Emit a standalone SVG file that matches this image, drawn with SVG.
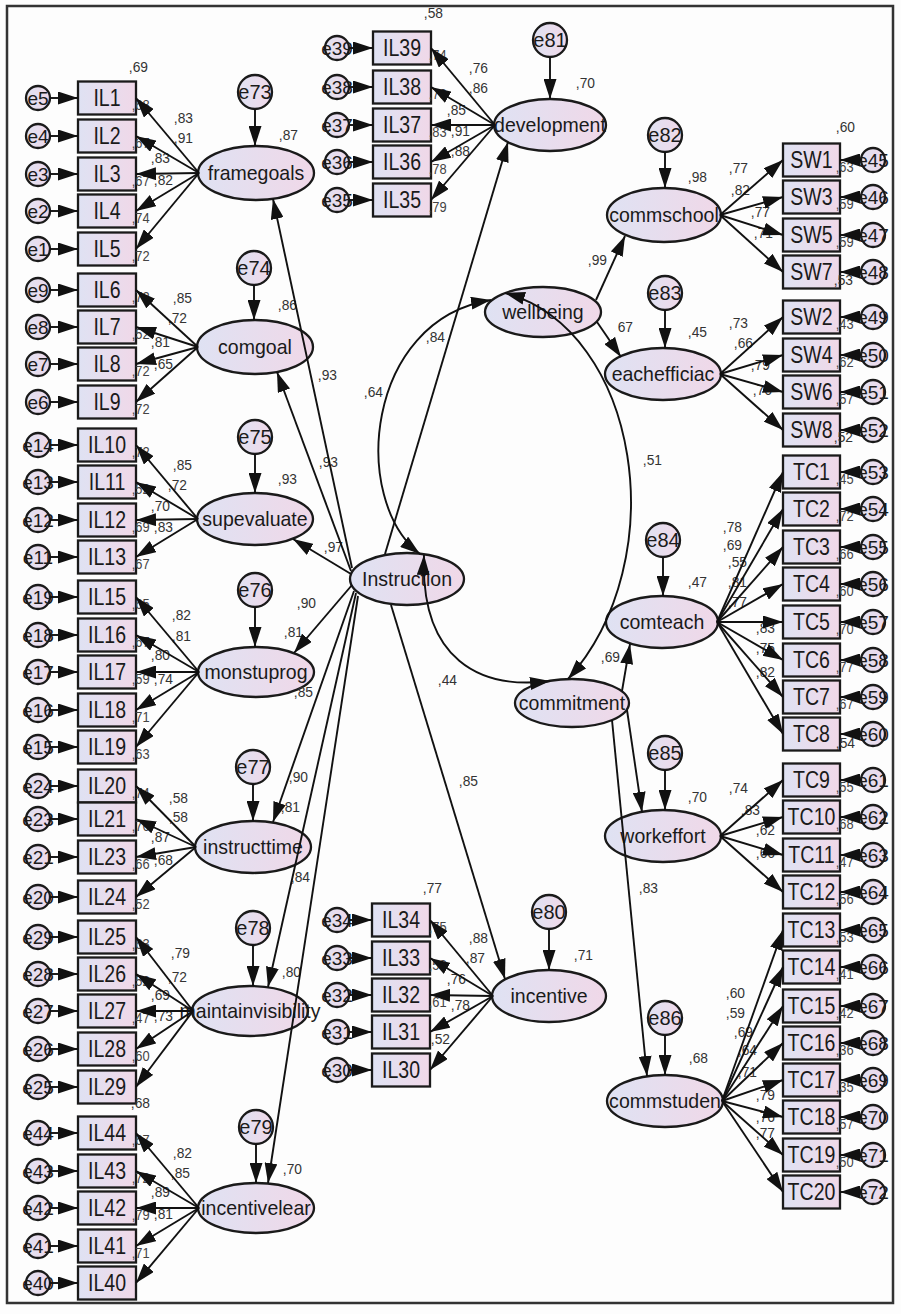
<svg xmlns="http://www.w3.org/2000/svg" width="901" height="1314" viewBox="0 0 901 1314">
<defs>
<linearGradient id="g" x1="0" y1="0" x2="1" y2="0">
<stop offset="0" stop-color="#dfe2f3"/>
<stop offset="1" stop-color="#f0d8e8"/>
</linearGradient>
<marker id="a" markerUnits="userSpaceOnUse" markerWidth="20" markerHeight="13" refX="20" refY="6.5" orient="auto-start-reverse" viewBox="0 0 20 13">
<path d="M0,0 L20,6.5 L0,13 z" fill="#111"/>
</marker>
</defs>
<style>
.b,.l,.e{fill:url(#g);stroke:#1a1a1a;stroke-width:2.3}
text{font-family:"Liberation Sans",Arial,sans-serif;fill:#1a1a1a;transform-box:fill-box;transform-origin:center}
.nl{font-size:21px;text-anchor:middle;transform:scaleX(.93)}
.bl{font-size:23px;text-anchor:middle;transform:scaleX(.85)}
.el{font-size:19px;text-anchor:middle}
.le{font-size:20px;text-anchor:middle}
.v{font-size:15px;fill:#333;transform:scaleX(.92)}
.s{font-size:14px;fill:#444;transform:scaleX(.92)}
#conn line,#conn path{stroke:#111;stroke-width:1.9;fill:none;marker-end:url(#a)}
#conn .d{marker-start:url(#a)}
</style>
<rect x="0" y="0" width="901" height="1314" fill="#fdfdfd"/>
<rect x="7" y="6" width="886" height="1297" fill="none" stroke="#333" stroke-width="2.5"/>

<!-- latent nodes -->
<g id="framegoals"><ellipse class="l" cx="256" cy="173" rx="58" ry="27"/><text class="nl" x="256" y="180">framegoals</text></g>
<g id="comgoal"><ellipse class="l" cx="255" cy="347" rx="58" ry="27"/><text class="nl" x="255" y="354">comgoal</text></g>
<g id="supevaluate"><ellipse class="l" cx="255" cy="519" rx="58" ry="26"/><text class="nl" x="255" y="526">supevaluate</text></g>
<g id="monstuprog"><ellipse class="l" cx="256" cy="672" rx="58" ry="25"/><text class="nl" x="256" y="679">monstuprog</text></g>
<g id="instructtime"><ellipse class="l" cx="253" cy="847" rx="58" ry="26"/><text class="nl" x="253" y="854">instructtime</text></g>
<g id="maintainvisibility"><ellipse class="l" cx="250" cy="1011" rx="58" ry="25"/><text class="nl" x="250" y="1018">maintainvisibility</text></g>
<g id="incentivelear"><ellipse class="l" cx="256" cy="1208" rx="58" ry="25"/><text class="nl" x="256" y="1215">incentivelear</text></g>
<g id="Instruction"><ellipse class="l" cx="407" cy="579" rx="57" ry="26"/><text class="nl" x="407" y="586">Instruction</text></g>
<g id="development"><ellipse class="l" cx="550" cy="125" rx="56" ry="26"/><text class="nl" x="550" y="132">development</text></g>
<g id="incentive"><ellipse class="l" cx="549" cy="996" rx="57" ry="26"/><text class="nl" x="549" y="1003">incentive</text></g>
<g id="wellbeing"><ellipse class="l" cx="543" cy="312" rx="58" ry="25"/><text class="nl" x="543" y="319">wellbeing</text></g>
<g id="commitment"><ellipse class="l" cx="572" cy="703" rx="57" ry="24"/><text class="nl" x="572" y="710">commitment</text></g>
<g id="commschool"><ellipse class="l" cx="664" cy="215" rx="57" ry="27"/><text class="nl" x="664" y="222">commschool</text></g>
<g id="teachefficiacy"><ellipse class="l" cx="663" cy="374" rx="58" ry="26"/><text class="nl" x="663" y="381">eachefficiac</text></g>
<g id="comteach"><ellipse class="l" cx="662" cy="622" rx="56" ry="26"/><text class="nl" x="662" y="629">comteach</text></g>
<g id="workeffort"><ellipse class="l" cx="663" cy="836" rx="58" ry="26"/><text class="nl" x="663" y="843">workeffort</text></g>
<g id="commstuden"><ellipse class="l" cx="665" cy="1101" rx="58" ry="26"/><text class="nl" x="665" y="1108">commstuden</text></g>

<!-- latent error terms -->
<g id="e73"><circle class="e" cx="255" cy="92" r="17"/><text class="le" x="255" y="99">e73</text></g>
<g id="e74"><circle class="e" cx="254" cy="268" r="17"/><text class="le" x="254" y="275">e74</text></g>
<g id="e75"><circle class="e" cx="255" cy="437" r="17"/><text class="le" x="255" y="444">e75</text></g>
<g id="e76"><circle class="e" cx="255" cy="590" r="17"/><text class="le" x="255" y="597">e76</text></g>
<g id="e77"><circle class="e" cx="253" cy="767" r="17"/><text class="le" x="253" y="774">e77</text></g>
<g id="e78"><circle class="e" cx="253" cy="928" r="17"/><text class="le" x="253" y="935">e78</text></g>
<g id="e79"><circle class="e" cx="256" cy="1127" r="17"/><text class="le" x="256" y="1134">e79</text></g>
<g id="e81"><circle class="e" cx="550" cy="40" r="17"/><text class="le" x="550" y="47">e81</text></g>
<g id="e80"><circle class="e" cx="549" cy="912" r="17"/><text class="le" x="549" y="919">e80</text></g>
<g id="e82"><circle class="e" cx="665" cy="135" r="17"/><text class="le" x="665" y="142">e82</text></g>
<g id="e83"><circle class="e" cx="665" cy="293" r="17"/><text class="le" x="665" y="300">e83</text></g>
<g id="e84"><circle class="e" cx="663" cy="540" r="17"/><text class="le" x="663" y="547">e84</text></g>
<g id="e85"><circle class="e" cx="665" cy="753" r="17"/><text class="le" x="665" y="760">e85</text></g>
<g id="e86"><circle class="e" cx="665" cy="1018" r="17"/><text class="le" x="665" y="1025">e86</text></g>

<!-- left indicators -->
<g id="IL1"><rect class="b" x="78" y="81.5" width="58" height="33"/><text class="bl" x="107" y="106">IL1</text></g>
<g id="IL2"><rect class="b" x="78" y="119.5" width="58" height="33"/><text class="bl" x="107" y="144">IL2</text></g>
<g id="IL3"><rect class="b" x="78" y="157.5" width="58" height="33"/><text class="bl" x="107" y="182">IL3</text></g>
<g id="IL4"><rect class="b" x="78" y="194.5" width="58" height="33"/><text class="bl" x="107" y="219">IL4</text></g>
<g id="IL5"><rect class="b" x="78" y="232.5" width="58" height="33"/><text class="bl" x="107" y="257">IL5</text></g>
<g id="IL6"><rect class="b" x="78" y="273.5" width="58" height="33"/><text class="bl" x="107" y="298">IL6</text></g>
<g id="IL7"><rect class="b" x="78" y="310.5" width="58" height="33"/><text class="bl" x="107" y="335">IL7</text></g>
<g id="IL8"><rect class="b" x="78" y="347.5" width="58" height="33"/><text class="bl" x="107" y="372">IL8</text></g>
<g id="IL9"><rect class="b" x="78" y="385.5" width="58" height="33"/><text class="bl" x="107" y="410">IL9</text></g>
<g id="IL10"><rect class="b" x="78" y="428.5" width="58" height="33"/><text class="bl" x="107" y="453">IL10</text></g>
<g id="IL11"><rect class="b" x="78" y="465.5" width="58" height="33"/><text class="bl" x="107" y="490">IL11</text></g>
<g id="IL12"><rect class="b" x="78" y="503.5" width="58" height="33"/><text class="bl" x="107" y="528">IL12</text></g>
<g id="IL13"><rect class="b" x="78" y="540.5" width="58" height="33"/><text class="bl" x="107" y="565">IL13</text></g>
<g id="IL15"><rect class="b" x="78" y="580.5" width="58" height="33"/><text class="bl" x="107" y="605">IL15</text></g>
<g id="IL16"><rect class="b" x="78" y="618.5" width="58" height="33"/><text class="bl" x="107" y="643">IL16</text></g>
<g id="IL17"><rect class="b" x="78" y="655.5" width="58" height="33"/><text class="bl" x="107" y="680">IL17</text></g>
<g id="IL18"><rect class="b" x="78" y="693.5" width="58" height="33"/><text class="bl" x="107" y="718">IL18</text></g>
<g id="IL19"><rect class="b" x="78" y="730.5" width="58" height="33"/><text class="bl" x="107" y="755">IL19</text></g>
<g id="IL20"><rect class="b" x="78" y="769.5" width="58" height="33"/><text class="bl" x="107" y="794">IL20</text></g>
<g id="IL21"><rect class="b" x="78" y="802.5" width="58" height="33"/><text class="bl" x="107" y="827">IL21</text></g>
<g id="IL23"><rect class="b" x="78" y="840.5" width="58" height="33"/><text class="bl" x="107" y="865">IL23</text></g>
<g id="IL24"><rect class="b" x="78" y="880.5" width="58" height="33"/><text class="bl" x="107" y="905">IL24</text></g>
<g id="IL25"><rect class="b" x="78" y="920.5" width="58" height="33"/><text class="bl" x="107" y="945">IL25</text></g>
<g id="IL26"><rect class="b" x="78" y="957.5" width="58" height="33"/><text class="bl" x="107" y="982">IL26</text></g>
<g id="IL27"><rect class="b" x="78" y="994.5" width="58" height="33"/><text class="bl" x="107" y="1019">IL27</text></g>
<g id="IL28"><rect class="b" x="78" y="1032.5" width="58" height="33"/><text class="bl" x="107" y="1057">IL28</text></g>
<g id="IL29"><rect class="b" x="78" y="1070.5" width="58" height="33"/><text class="bl" x="107" y="1095">IL29</text></g>
<g id="IL44"><rect class="b" x="78" y="1116.5" width="58" height="33"/><text class="bl" x="107" y="1141">IL44</text></g>
<g id="IL43"><rect class="b" x="78" y="1154.5" width="58" height="33"/><text class="bl" x="107" y="1179">IL43</text></g>
<g id="IL42"><rect class="b" x="78" y="1191.5" width="58" height="33"/><text class="bl" x="107" y="1216">IL42</text></g>
<g id="IL41"><rect class="b" x="78" y="1229.5" width="58" height="33"/><text class="bl" x="107" y="1254">IL41</text></g>
<g id="IL40"><rect class="b" x="78" y="1266.5" width="58" height="33"/><text class="bl" x="107" y="1291">IL40</text></g>

<!-- middle indicators -->
<g id="IL39"><rect class="b" x="373" y="31.5" width="58" height="33"/><text class="bl" x="402" y="56">IL39</text></g>
<g id="IL38"><rect class="b" x="373" y="70.5" width="58" height="33"/><text class="bl" x="402" y="95">IL38</text></g>
<g id="IL37"><rect class="b" x="373" y="108.5" width="58" height="33"/><text class="bl" x="402" y="133">IL37</text></g>
<g id="IL36"><rect class="b" x="373" y="145.5" width="58" height="33"/><text class="bl" x="402" y="170">IL36</text></g>
<g id="IL35"><rect class="b" x="373" y="183.5" width="58" height="33"/><text class="bl" x="402" y="208">IL35</text></g>
<g id="IL34"><rect class="b" x="372" y="903.5" width="58" height="33"/><text class="bl" x="401" y="928">IL34</text></g>
<g id="IL33"><rect class="b" x="372" y="941.5" width="58" height="33"/><text class="bl" x="401" y="966">IL33</text></g>
<g id="IL32"><rect class="b" x="372" y="978.5" width="58" height="33"/><text class="bl" x="401" y="1003">IL32</text></g>
<g id="IL31"><rect class="b" x="372" y="1015.5" width="58" height="33"/><text class="bl" x="401" y="1040">IL31</text></g>
<g id="IL30"><rect class="b" x="372" y="1053.5" width="58" height="33"/><text class="bl" x="401" y="1078">IL30</text></g>

<!-- right indicators -->
<g id="SW1"><rect class="b" x="783" y="143.5" width="57" height="33"/><text class="bl" x="811.5" y="168">SW1</text></g>
<g id="SW3"><rect class="b" x="783" y="180.5" width="57" height="33"/><text class="bl" x="811.5" y="205">SW3</text></g>
<g id="SW5"><rect class="b" x="783" y="218.5" width="57" height="33"/><text class="bl" x="811.5" y="243">SW5</text></g>
<g id="SW7"><rect class="b" x="783" y="255.5" width="57" height="33"/><text class="bl" x="811.5" y="280">SW7</text></g>
<g id="SW2"><rect class="b" x="783" y="300.5" width="57" height="33"/><text class="bl" x="811.5" y="325">SW2</text></g>
<g id="SW4"><rect class="b" x="783" y="338.5" width="57" height="33"/><text class="bl" x="811.5" y="363">SW4</text></g>
<g id="SW6"><rect class="b" x="783" y="375.5" width="57" height="33"/><text class="bl" x="811.5" y="400">SW6</text></g>
<g id="SW8"><rect class="b" x="783" y="413.5" width="57" height="33"/><text class="bl" x="811.5" y="438">SW8</text></g>
<g id="TC1"><rect class="b" x="783" y="455.5" width="57" height="33"/><text class="bl" x="811.5" y="480">TC1</text></g>
<g id="TC2"><rect class="b" x="783" y="492.5" width="57" height="33"/><text class="bl" x="811.5" y="517">TC2</text></g>
<g id="TC3"><rect class="b" x="783" y="530.5" width="57" height="33"/><text class="bl" x="811.5" y="555">TC3</text></g>
<g id="TC4"><rect class="b" x="783" y="567.5" width="57" height="33"/><text class="bl" x="811.5" y="592">TC4</text></g>
<g id="TC5"><rect class="b" x="783" y="605.5" width="57" height="33"/><text class="bl" x="811.5" y="630">TC5</text></g>
<g id="TC6"><rect class="b" x="783" y="643.5" width="57" height="33"/><text class="bl" x="811.5" y="668">TC6</text></g>
<g id="TC7"><rect class="b" x="783" y="680.5" width="57" height="33"/><text class="bl" x="811.5" y="705">TC7</text></g>
<g id="TC8"><rect class="b" x="783" y="717.5" width="57" height="33"/><text class="bl" x="811.5" y="742">TC8</text></g>
<g id="TC9"><rect class="b" x="783" y="763.5" width="57" height="33"/><text class="bl" x="811.5" y="788">TC9</text></g>
<g id="TC10"><rect class="b" x="783" y="800.5" width="57" height="33"/><text class="bl" x="811.5" y="825">TC10</text></g>
<g id="TC11"><rect class="b" x="783" y="838.5" width="57" height="33"/><text class="bl" x="811.5" y="863">TC11</text></g>
<g id="TC12"><rect class="b" x="783" y="875.5" width="57" height="33"/><text class="bl" x="811.5" y="900">TC12</text></g>
<g id="TC13"><rect class="b" x="783" y="913.5" width="57" height="33"/><text class="bl" x="811.5" y="938">TC13</text></g>
<g id="TC14"><rect class="b" x="783" y="950.5" width="57" height="33"/><text class="bl" x="811.5" y="975">TC14</text></g>
<g id="TC15"><rect class="b" x="783" y="989.5" width="57" height="33"/><text class="bl" x="811.5" y="1014">TC15</text></g>
<g id="TC16"><rect class="b" x="783" y="1026.5" width="57" height="33"/><text class="bl" x="811.5" y="1051">TC16</text></g>
<g id="TC17"><rect class="b" x="783" y="1063.5" width="57" height="33"/><text class="bl" x="811.5" y="1088">TC17</text></g>
<g id="TC18"><rect class="b" x="783" y="1100.5" width="57" height="33"/><text class="bl" x="811.5" y="1125">TC18</text></g>
<g id="TC19"><rect class="b" x="783" y="1138.5" width="57" height="33"/><text class="bl" x="811.5" y="1163">TC19</text></g>
<g id="TC20"><rect class="b" x="783" y="1175.5" width="57" height="33"/><text class="bl" x="811.5" y="1200">TC20</text></g>

<!-- left error terms -->
<g id="e5"><circle class="e" cx="38" cy="98" r="12"/><text class="el" x="38" y="105">e5</text></g>
<g id="e4"><circle class="e" cx="38" cy="136" r="12"/><text class="el" x="38" y="143">e4</text></g>
<g id="e3"><circle class="e" cx="38" cy="174" r="12"/><text class="el" x="38" y="181">e3</text></g>
<g id="e2"><circle class="e" cx="38" cy="211" r="12"/><text class="el" x="38" y="218">e2</text></g>
<g id="e1"><circle class="e" cx="38" cy="249" r="12"/><text class="el" x="38" y="256">e1</text></g>
<g id="e9"><circle class="e" cx="38" cy="290" r="12"/><text class="el" x="38" y="297">e9</text></g>
<g id="e8"><circle class="e" cx="38" cy="327" r="12"/><text class="el" x="38" y="334">e8</text></g>
<g id="e7"><circle class="e" cx="38" cy="364" r="12"/><text class="el" x="38" y="371">e7</text></g>
<g id="e6"><circle class="e" cx="38" cy="402" r="12"/><text class="el" x="38" y="409">e6</text></g>
<g id="e14"><circle class="e" cx="38" cy="445" r="12"/><text class="el" x="38" y="452">e14</text></g>
<g id="e13"><circle class="e" cx="38" cy="482" r="12"/><text class="el" x="38" y="489">e13</text></g>
<g id="e12"><circle class="e" cx="38" cy="520" r="12"/><text class="el" x="38" y="527">e12</text></g>
<g id="e11"><circle class="e" cx="38" cy="557" r="12"/><text class="el" x="38" y="564">e11</text></g>
<g id="e19"><circle class="e" cx="38" cy="597" r="12"/><text class="el" x="38" y="604">e19</text></g>
<g id="e18"><circle class="e" cx="38" cy="635" r="12"/><text class="el" x="38" y="642">e18</text></g>
<g id="e17"><circle class="e" cx="38" cy="672" r="12"/><text class="el" x="38" y="679">e17</text></g>
<g id="e16"><circle class="e" cx="38" cy="710" r="12"/><text class="el" x="38" y="717">e16</text></g>
<g id="e15"><circle class="e" cx="38" cy="747" r="12"/><text class="el" x="38" y="754">e15</text></g>
<g id="e24"><circle class="e" cx="38" cy="786" r="12"/><text class="el" x="38" y="793">e24</text></g>
<g id="e23"><circle class="e" cx="38" cy="819" r="12"/><text class="el" x="38" y="826">e23</text></g>
<g id="e21"><circle class="e" cx="38" cy="857" r="12"/><text class="el" x="38" y="864">e21</text></g>
<g id="e20"><circle class="e" cx="38" cy="897" r="12"/><text class="el" x="38" y="904">e20</text></g>
<g id="e29"><circle class="e" cx="38" cy="937" r="12"/><text class="el" x="38" y="944">e29</text></g>
<g id="e28"><circle class="e" cx="38" cy="974" r="12"/><text class="el" x="38" y="981">e28</text></g>
<g id="e27"><circle class="e" cx="38" cy="1011" r="12"/><text class="el" x="38" y="1018">e27</text></g>
<g id="e26"><circle class="e" cx="38" cy="1049" r="12"/><text class="el" x="38" y="1056">e26</text></g>
<g id="e25"><circle class="e" cx="38" cy="1087" r="12"/><text class="el" x="38" y="1094">e25</text></g>
<g id="e44"><circle class="e" cx="38" cy="1133" r="12"/><text class="el" x="38" y="1140">e44</text></g>
<g id="e43"><circle class="e" cx="38" cy="1171" r="12"/><text class="el" x="38" y="1178">e43</text></g>
<g id="e42"><circle class="e" cx="38" cy="1208" r="12"/><text class="el" x="38" y="1215">e42</text></g>
<g id="e41"><circle class="e" cx="38" cy="1246" r="12"/><text class="el" x="38" y="1253">e41</text></g>
<g id="e40"><circle class="e" cx="38" cy="1283" r="12"/><text class="el" x="38" y="1290">e40</text></g>

<!-- middle error terms -->
<g id="e39"><circle class="e" cx="337" cy="48" r="12"/><text class="el" x="337" y="55">e39</text></g>
<g id="e38"><circle class="e" cx="337" cy="87" r="12"/><text class="el" x="337" y="94">e38</text></g>
<g id="e37"><circle class="e" cx="337" cy="125" r="12"/><text class="el" x="337" y="132">e37</text></g>
<g id="e36"><circle class="e" cx="337" cy="162" r="12"/><text class="el" x="337" y="169">e36</text></g>
<g id="e35"><circle class="e" cx="337" cy="200" r="12"/><text class="el" x="337" y="207">e35</text></g>
<g id="e34"><circle class="e" cx="337" cy="920" r="12"/><text class="el" x="337" y="927">e34</text></g>
<g id="e33"><circle class="e" cx="337" cy="958" r="12"/><text class="el" x="337" y="965">e33</text></g>
<g id="e32"><circle class="e" cx="337" cy="995" r="12"/><text class="el" x="337" y="1002">e32</text></g>
<g id="e31"><circle class="e" cx="337" cy="1032" r="12"/><text class="el" x="337" y="1039">e31</text></g>
<g id="e30"><circle class="e" cx="337" cy="1070" r="12"/><text class="el" x="337" y="1077">e30</text></g>

<!-- right error terms -->
<g id="e45"><circle class="e" cx="873" cy="160" r="12"/><text class="el" x="873" y="167">e45</text></g>
<g id="e46"><circle class="e" cx="873" cy="197" r="12"/><text class="el" x="873" y="204">e46</text></g>
<g id="e47"><circle class="e" cx="873" cy="235" r="12"/><text class="el" x="873" y="242">e47</text></g>
<g id="e48"><circle class="e" cx="873" cy="272" r="12"/><text class="el" x="873" y="279">e48</text></g>
<g id="e49"><circle class="e" cx="873" cy="317" r="12"/><text class="el" x="873" y="324">e49</text></g>
<g id="e50"><circle class="e" cx="873" cy="355" r="12"/><text class="el" x="873" y="362">e50</text></g>
<g id="e51"><circle class="e" cx="873" cy="392" r="12"/><text class="el" x="873" y="399">e51</text></g>
<g id="e52"><circle class="e" cx="873" cy="430" r="12"/><text class="el" x="873" y="437">e52</text></g>
<g id="e53"><circle class="e" cx="873" cy="472" r="12"/><text class="el" x="873" y="479">e53</text></g>
<g id="e54"><circle class="e" cx="873" cy="509" r="12"/><text class="el" x="873" y="516">e54</text></g>
<g id="e55"><circle class="e" cx="873" cy="547" r="12"/><text class="el" x="873" y="554">e55</text></g>
<g id="e56"><circle class="e" cx="873" cy="584" r="12"/><text class="el" x="873" y="591">e56</text></g>
<g id="e57"><circle class="e" cx="873" cy="622" r="12"/><text class="el" x="873" y="629">e57</text></g>
<g id="e58"><circle class="e" cx="873" cy="660" r="12"/><text class="el" x="873" y="667">e58</text></g>
<g id="e59"><circle class="e" cx="873" cy="697" r="12"/><text class="el" x="873" y="704">e59</text></g>
<g id="e60"><circle class="e" cx="873" cy="734" r="12"/><text class="el" x="873" y="741">e60</text></g>
<g id="e61"><circle class="e" cx="873" cy="780" r="12"/><text class="el" x="873" y="787">e61</text></g>
<g id="e62"><circle class="e" cx="873" cy="817" r="12"/><text class="el" x="873" y="824">e62</text></g>
<g id="e63"><circle class="e" cx="873" cy="855" r="12"/><text class="el" x="873" y="862">e63</text></g>
<g id="e64"><circle class="e" cx="873" cy="892" r="12"/><text class="el" x="873" y="899">e64</text></g>
<g id="e65"><circle class="e" cx="873" cy="930" r="12"/><text class="el" x="873" y="937">e65</text></g>
<g id="e66"><circle class="e" cx="873" cy="967" r="12"/><text class="el" x="873" y="974">e66</text></g>
<g id="e67"><circle class="e" cx="873" cy="1006" r="12"/><text class="el" x="873" y="1013">e67</text></g>
<g id="e68"><circle class="e" cx="873" cy="1043" r="12"/><text class="el" x="873" y="1050">e68</text></g>
<g id="e69"><circle class="e" cx="873" cy="1080" r="12"/><text class="el" x="873" y="1087">e69</text></g>
<g id="e70"><circle class="e" cx="873" cy="1117" r="12"/><text class="el" x="873" y="1124">e70</text></g>
<g id="e71"><circle class="e" cx="873" cy="1155" r="12"/><text class="el" x="873" y="1162">e71</text></g>
<g id="e72"><circle class="e" cx="873" cy="1192" r="12"/><text class="el" x="873" y="1199">e72</text></g>

<!-- value labels -->
<g id="values">
<text class="v" x="128" y="72">,69</text><text class="v" x="278" y="140">,87</text>
<text class="v" x="173" y="123">,83</text><text class="v" x="173" y="143">,91</text><text class="v" x="150" y="163">,83</text><text class="v" x="153" y="185">,82</text>
<text class="s" x="131" y="110">,68</text><text class="s" x="131" y="148">,67</text><text class="s" x="131" y="186">,67</text><text class="s" x="131" y="223">,74</text><text class="s" x="131" y="261">,72</text>
<text class="v" x="172" y="303">,85</text><text class="v" x="167" y="323">,72</text><text class="v" x="150" y="347">,81</text><text class="v" x="153" y="369">,65</text><text class="v" x="277" y="310">,86</text>
<text class="s" x="131" y="302">,72</text><text class="s" x="131" y="339">,52</text><text class="s" x="131" y="376">,72</text><text class="s" x="131" y="414">,72</text>
<text class="v" x="172" y="470">,85</text><text class="v" x="167" y="490">,72</text><text class="v" x="150" y="511">,70</text><text class="v" x="153" y="532">,83</text><text class="v" x="277" y="484">,93</text>
<text class="s" x="131" y="457">,72</text><text class="s" x="131" y="494">,52</text><text class="s" x="131" y="532">,69</text><text class="s" x="131" y="569">,67</text>
<text class="v" x="171" y="620">,82</text><text class="v" x="171" y="641">,81</text><text class="v" x="150" y="660">,80</text><text class="v" x="153" y="684">,74</text>
<text class="s" x="131" y="609">,65</text><text class="s" x="131" y="647">,67</text><text class="s" x="131" y="684">,59</text><text class="s" x="131" y="722">,71</text><text class="s" x="131" y="759">,63</text>
<text class="v" x="296" y="608">,90</text><text class="v" x="283" y="637">,81</text><text class="v" x="293" y="697">,85</text>
<text class="v" x="168" y="803">,58</text><text class="v" x="168" y="822">,58</text><text class="v" x="150" y="842">,87</text><text class="v" x="153" y="865">,68</text>
<text class="s" x="131" y="798">,74</text><text class="s" x="131" y="831">,76</text><text class="s" x="131" y="869">,66</text><text class="s" x="131" y="909">,52</text>
<text class="v" x="288" y="782">,90</text><text class="v" x="280" y="812">,81</text><text class="v" x="290" y="882">,84</text>
<text class="v" x="170" y="958">,79</text><text class="v" x="167" y="982">,72</text><text class="v" x="150" y="1000">,69</text><text class="v" x="153" y="1021">,73</text><text class="v" x="281" y="977">,80</text>
<text class="s" x="131" y="949">,63</text><text class="s" x="131" y="986">,52</text><text class="s" x="131" y="1023">,47</text><text class="s" x="131" y="1061">,60</text><text class="v" x="130" y="1108">,68</text>
<text class="v" x="172" y="1158">,82</text><text class="v" x="170" y="1178">,85</text><text class="v" x="150" y="1197">,89</text><text class="v" x="153" y="1219">,81</text><text class="v" x="282" y="1174">,70</text>
<text class="s" x="131" y="1145">,67</text><text class="s" x="131" y="1183">,72</text><text class="s" x="131" y="1220">,79</text><text class="s" x="131" y="1258">,71</text>
<text class="v" x="317" y="380">,93</text><text class="v" x="318" y="467">,93</text><text class="v" x="323" y="552">,97</text><text class="v" x="363" y="397">,64</text><text class="v" x="425" y="342">,84</text><text class="v" x="437" y="685">,44</text><text class="v" x="458" y="786">,85</text><text class="v" x="642" y="465">,51</text>
<text class="v" x="423" y="18">,58</text><text class="v" x="575" y="88">,70</text>
<text class="v" x="468" y="73">,76</text><text class="v" x="468" y="93">,86</text><text class="v" x="446" y="115">,85</text><text class="v" x="450" y="136">,91</text><text class="v" x="450" y="156">,88</text>
<text class="s" x="428" y="60">,74</text><text class="s" x="428" y="99">,73</text><text class="s" x="428" y="137">,83</text><text class="s" x="428" y="174">,78</text><text class="s" x="428" y="212">,79</text>
<text class="v" x="422" y="893">,77</text><text class="v" x="573" y="960">,71</text>
<text class="v" x="468" y="943">,88</text><text class="v" x="465" y="963">,87</text><text class="v" x="446" y="984">,76</text><text class="v" x="450" y="1010">,78</text>
<text class="s" x="428" y="932">,75</text><text class="s" x="428" y="970">,58</text><text class="s" x="428" y="1007">,61</text><text class="v" x="430" y="1044">,52</text>
<text class="v" x="835" y="132">,60</text><text class="v" x="687" y="182">,98</text><text class="v" x="728" y="173">,77</text><text class="v" x="730" y="195">,82</text><text class="v" x="750" y="217">,77</text><text class="v" x="753" y="238">,71</text><text class="v" x="587" y="265">,99</text>
<text class="s" x="835" y="172">,63</text><text class="s" x="835" y="209">,59</text><text class="s" x="835" y="247">,59</text><text class="v" x="833" y="285">,53</text>
<text class="v" x="617" y="332">67</text><text class="v" x="687" y="337">,45</text><text class="v" x="728" y="328">,73</text><text class="v" x="733" y="348">,66</text><text class="v" x="750" y="370">,79</text><text class="v" x="752" y="395">,76</text>
<text class="s" x="835" y="329">,43</text><text class="s" x="835" y="367">,62</text><text class="s" x="835" y="404">,57</text><text class="v" x="833" y="442">,52</text>
<text class="v" x="687" y="587">,47</text><text class="v" x="600" y="662">,69</text>
<text class="v" x="722" y="532">,78</text><text class="v" x="722" y="550">,69</text><text class="v" x="727" y="567">,55</text><text class="v" x="727" y="587">,81</text><text class="v" x="727" y="607">,77</text><text class="v" x="755" y="633">,83</text><text class="v" x="755" y="653">,75</text><text class="v" x="755" y="677">,82</text>
<text class="s" x="835" y="484">,45</text><text class="s" x="835" y="521">,72</text><text class="s" x="835" y="559">,66</text><text class="s" x="835" y="596">,60</text><text class="s" x="835" y="634">,70</text><text class="s" x="835" y="672">,77</text><text class="s" x="835" y="709">,67</text><text class="v" x="835" y="748">,54</text>
<text class="v" x="687" y="802">,70</text><text class="v" x="728" y="793">,74</text><text class="v" x="740" y="815">,83</text><text class="v" x="755" y="835">,62</text><text class="v" x="755" y="858">,66</text><text class="v" x="638" y="893">,83</text>
<text class="s" x="835" y="792">,55</text><text class="s" x="835" y="829">,68</text><text class="s" x="835" y="867">,47</text><text class="s" x="835" y="904">,56</text>
<text class="v" x="688" y="1063">,68</text>
<text class="v" x="725" y="998">,60</text><text class="v" x="725" y="1018">,59</text><text class="v" x="733" y="1037">,69</text><text class="v" x="737" y="1055">,64</text><text class="v" x="737" y="1077">,71</text><text class="v" x="755" y="1100">,79</text><text class="v" x="755" y="1122">,76</text><text class="v" x="755" y="1138">,77</text>
<text class="s" x="835" y="942">,53</text><text class="s" x="835" y="979">,41</text><text class="s" x="835" y="1018">,42</text><text class="s" x="835" y="1055">,36</text><text class="s" x="835" y="1092">,35</text><text class="s" x="835" y="1129">,57</text><text class="s" x="835" y="1167">,50</text>
</g>

<!-- connectors -->
<g id="conn">
<line x1="50" y1="98" x2="78" y2="98"/><line x1="50" y1="136" x2="78" y2="136"/><line x1="50" y1="174" x2="78" y2="174"/><line x1="50" y1="211" x2="78" y2="211"/><line x1="50" y1="249" x2="78" y2="249"/>
<line x1="50" y1="290" x2="78" y2="290"/><line x1="50" y1="327" x2="78" y2="327"/><line x1="50" y1="364" x2="78" y2="364"/><line x1="50" y1="402" x2="78" y2="402"/>
<line x1="50" y1="445" x2="78" y2="445"/><line x1="50" y1="482" x2="78" y2="482"/><line x1="50" y1="520" x2="78" y2="520"/><line x1="50" y1="557" x2="78" y2="557"/>
<line x1="50" y1="597" x2="78" y2="597"/><line x1="50" y1="635" x2="78" y2="635"/><line x1="50" y1="672" x2="78" y2="672"/><line x1="50" y1="710" x2="78" y2="710"/><line x1="50" y1="747" x2="78" y2="747"/>
<line x1="50" y1="786" x2="78" y2="786"/><line x1="50" y1="819" x2="78" y2="819"/><line x1="50" y1="857" x2="78" y2="857"/><line x1="50" y1="897" x2="78" y2="897"/>
<line x1="50" y1="937" x2="78" y2="937"/><line x1="50" y1="974" x2="78" y2="974"/><line x1="50" y1="1011" x2="78" y2="1011"/><line x1="50" y1="1049" x2="78" y2="1049"/><line x1="50" y1="1087" x2="78" y2="1087"/>
<line x1="50" y1="1133" x2="78" y2="1133"/><line x1="50" y1="1171" x2="78" y2="1171"/><line x1="50" y1="1208" x2="78" y2="1208"/><line x1="50" y1="1246" x2="78" y2="1246"/><line x1="50" y1="1283" x2="78" y2="1283"/>
<line x1="349" y1="48" x2="373" y2="48"/><line x1="349" y1="87" x2="373" y2="87"/><line x1="349" y1="125" x2="373" y2="125"/><line x1="349" y1="162" x2="373" y2="162"/><line x1="349" y1="200" x2="373" y2="200"/>
<line x1="349" y1="920" x2="372" y2="920"/><line x1="349" y1="958" x2="372" y2="958"/><line x1="349" y1="995" x2="372" y2="995"/><line x1="349" y1="1032" x2="372" y2="1032"/><line x1="349" y1="1070" x2="372" y2="1070"/>
<line x1="861" y1="160" x2="840" y2="160"/><line x1="861" y1="197" x2="840" y2="197"/><line x1="861" y1="235" x2="840" y2="235"/><line x1="861" y1="272" x2="840" y2="272"/>
<line x1="861" y1="317" x2="840" y2="317"/><line x1="861" y1="355" x2="840" y2="355"/><line x1="861" y1="392" x2="840" y2="392"/><line x1="861" y1="430" x2="840" y2="430"/>
<line x1="861" y1="472" x2="840" y2="472"/><line x1="861" y1="509" x2="840" y2="509"/><line x1="861" y1="547" x2="840" y2="547"/><line x1="861" y1="584" x2="840" y2="584"/><line x1="861" y1="622" x2="840" y2="622"/><line x1="861" y1="660" x2="840" y2="660"/><line x1="861" y1="697" x2="840" y2="697"/><line x1="861" y1="734" x2="840" y2="734"/>
<line x1="861" y1="780" x2="840" y2="780"/><line x1="861" y1="817" x2="840" y2="817"/><line x1="861" y1="855" x2="840" y2="855"/><line x1="861" y1="892" x2="840" y2="892"/>
<line x1="861" y1="930" x2="840" y2="930"/><line x1="861" y1="967" x2="840" y2="967"/><line x1="861" y1="1006" x2="840" y2="1006"/><line x1="861" y1="1043" x2="840" y2="1043"/><line x1="861" y1="1080" x2="840" y2="1080"/><line x1="861" y1="1117" x2="840" y2="1117"/><line x1="861" y1="1155" x2="840" y2="1155"/><line x1="861" y1="1192" x2="840" y2="1192"/>
<line x1="255" y1="109" x2="255" y2="146"/><line x1="254" y1="285" x2="254" y2="320"/><line x1="255" y1="454" x2="255" y2="493"/><line x1="255" y1="607" x2="255" y2="647"/><line x1="253" y1="784" x2="253" y2="821"/><line x1="253" y1="945" x2="253" y2="986"/><line x1="256" y1="1144" x2="256" y2="1183"/>
<line x1="550" y1="57" x2="550" y2="99"/><line x1="549" y1="929" x2="549" y2="970"/><line x1="665" y1="152" x2="665" y2="188"/><line x1="665" y1="310" x2="665" y2="348"/><line x1="663" y1="557" x2="663" y2="596"/><line x1="665" y1="770" x2="665" y2="810"/><line x1="665" y1="1035" x2="665" y2="1075"/>
<line x1="199" y1="173" x2="136" y2="98"/><line x1="199" y1="173" x2="136" y2="136"/><line x1="199" y1="173" x2="136" y2="174"/><line x1="199" y1="173" x2="136" y2="211"/><line x1="199" y1="173" x2="136" y2="249"/>
<line x1="198" y1="347" x2="136" y2="290"/><line x1="198" y1="347" x2="136" y2="327"/><line x1="198" y1="347" x2="136" y2="364"/><line x1="198" y1="347" x2="136" y2="402"/>
<line x1="198" y1="519" x2="136" y2="445"/><line x1="198" y1="519" x2="136" y2="482"/><line x1="198" y1="519" x2="136" y2="520"/><line x1="198" y1="519" x2="136" y2="557"/>
<line x1="199" y1="672" x2="136" y2="597"/><line x1="199" y1="672" x2="136" y2="635"/><line x1="199" y1="672" x2="136" y2="672"/><line x1="199" y1="672" x2="136" y2="710"/><line x1="199" y1="672" x2="136" y2="747"/>
<line x1="196" y1="847" x2="136" y2="786"/><line x1="196" y1="847" x2="136" y2="819"/><line x1="196" y1="847" x2="136" y2="857"/><line x1="196" y1="847" x2="136" y2="897"/>
<line x1="193" y1="1011" x2="136" y2="937"/><line x1="193" y1="1011" x2="136" y2="974"/><line x1="193" y1="1011" x2="136" y2="1011"/><line x1="193" y1="1011" x2="136" y2="1049"/><line x1="193" y1="1011" x2="136" y2="1087"/>
<line x1="199" y1="1208" x2="136" y2="1133"/><line x1="199" y1="1208" x2="136" y2="1171"/><line x1="199" y1="1208" x2="136" y2="1208"/><line x1="199" y1="1208" x2="136" y2="1246"/><line x1="199" y1="1208" x2="136" y2="1283"/>
<line x1="495" y1="125" x2="431" y2="48"/><line x1="495" y1="125" x2="431" y2="87"/><line x1="495" y1="125" x2="431" y2="125"/><line x1="495" y1="125" x2="431" y2="162"/><line x1="495" y1="125" x2="431" y2="200"/>
<line x1="493" y1="996" x2="430" y2="920"/><line x1="493" y1="996" x2="430" y2="958"/><line x1="493" y1="996" x2="430" y2="995"/><line x1="493" y1="996" x2="430" y2="1032"/><line x1="493" y1="996" x2="430" y2="1070"/>
<line x1="720" y1="215" x2="783" y2="160"/><line x1="720" y1="215" x2="783" y2="197"/><line x1="720" y1="215" x2="783" y2="235"/><line x1="720" y1="215" x2="783" y2="272"/>
<line x1="720" y1="374" x2="783" y2="317"/><line x1="720" y1="374" x2="783" y2="355"/><line x1="720" y1="374" x2="783" y2="392"/><line x1="720" y1="374" x2="783" y2="430"/>
<line x1="717" y1="622" x2="783" y2="472"/><line x1="717" y1="622" x2="783" y2="509"/><line x1="717" y1="622" x2="783" y2="547"/><line x1="717" y1="622" x2="783" y2="584"/><line x1="717" y1="622" x2="783" y2="622"/><line x1="717" y1="622" x2="783" y2="660"/><line x1="717" y1="622" x2="783" y2="697"/><line x1="717" y1="622" x2="783" y2="734"/>
<line x1="720" y1="836" x2="783" y2="780"/><line x1="720" y1="836" x2="783" y2="817"/><line x1="720" y1="836" x2="783" y2="855"/><line x1="720" y1="836" x2="783" y2="892"/>
<line x1="722" y1="1101" x2="783" y2="930"/><line x1="722" y1="1101" x2="783" y2="967"/><line x1="722" y1="1101" x2="783" y2="1006"/><line x1="722" y1="1101" x2="783" y2="1043"/><line x1="722" y1="1101" x2="783" y2="1080"/><line x1="722" y1="1101" x2="783" y2="1117"/><line x1="722" y1="1101" x2="783" y2="1155"/><line x1="722" y1="1101" x2="783" y2="1192"/>
<line x1="352" y1="568" x2="273" y2="199"/>
<line x1="351" y1="571" x2="277" y2="372"/>
<line x1="351" y1="574" x2="293" y2="539"/>
<line x1="352" y1="585" x2="294" y2="653"/>
<line x1="354" y1="591" x2="273" y2="822"/>
<line x1="356" y1="593" x2="268" y2="987"/>
<line x1="358" y1="596" x2="268" y2="1183"/>
<line x1="385" y1="554" x2="508" y2="142"/>
<line x1="391" y1="605" x2="505" y2="979"/>
<line x1="596" y1="300" x2="625" y2="236"/>
<line x1="597" y1="322" x2="621" y2="357"/>
<line x1="622" y1="691" x2="630" y2="644"/>
<line x1="627" y1="710" x2="642" y2="812"/>
<line x1="612" y1="720" x2="647" y2="1076"/>
<path class="d" d="M 420,554 C 350,500 365,320 491,300"/>
<path class="d" d="M 424,555 C 420,660 480,690 550,681"/>
<path class="d" d="M 505,293 C 640,330 675,560 568,679"/>
</g>
</svg>
